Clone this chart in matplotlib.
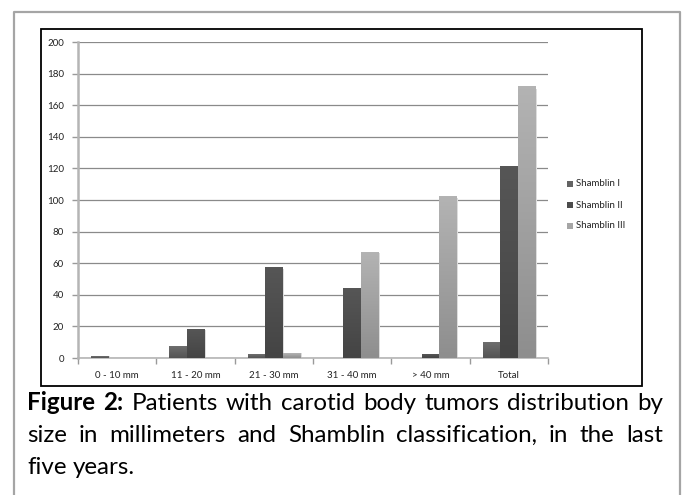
import matplotlib
matplotlib.use("Agg")
import matplotlib.pyplot as plt
import numpy as np
from matplotlib.patches import Rectangle
from matplotlib.lines import Line2D
from matplotlib.colors import LinearSegmentedColormap

# data
categories = ["0 - 10 mm", "11 - 20 mm", "21 - 30 mm", "31 - 40 mm", "> 40 mm", "Total"]
series_names = ["Shamblin I", "Shamblin II", "Shamblin III"]
shamblin_1 = [1, 7, 2, 0, 0, 10]
shamblin_2 = [0, 18, 57, 44, 2, 121]
shamblin_3 = [0, 0, 3, 67, 102, 172]
y_ticks = [0, 20, 40, 60, 80, 100, 120, 140, 160, 180, 200]

caption_bold = "Figure 2:"
caption_lines = [
    "Patients with carotid body tumors distribution by",
    "size in millimeters and Shamblin classification, in the last",
    "five years.",
]

# (top colour, bottom colour) per series, excel-like gradient
grads = [("#6e6e6e", "#545454"), ("#565656", "#444444"), ("#b3b3b3", "#8e8e8e")]
legend_cols = ["#636363", "#4c4c4c", "#a6a6a6"]

W, H = 683, 495
fig = plt.figure(figsize=(W / 100, H / 100), dpi=100)
fig.patch.set_facecolor("white")


def fx(x):
    return x / W


def fy(y):
    return 1 - y / H


ax = fig.add_axes([fx(78), fy(358), fx(548) - fx(78), fy(42) - fy(358)])

n = len(categories)
bw = 1 / 4.5
series = [shamblin_1, shamblin_2, shamblin_3]
for k, vals in enumerate(series):
    cmap = LinearSegmentedColormap.from_list("g%d" % k, [grads[k][0], grads[k][1]])
    for i, v in enumerate(vals):
        if v <= 0:
            continue
        x0 = i + (k - 1.5) * bw
        ax.imshow(np.linspace(0, 1, 64).reshape(-1, 1), cmap=cmap, aspect="auto",
                  extent=[x0, x0 + bw, 0, v], zorder=3, interpolation="bilinear")
        # faint shadow at right edge
        ax.add_patch(Rectangle((x0 + bw, 0), 0.02, v * 0.99, color="#dddddd", zorder=2, lw=0))

ax.set_xlim(-0.5, n - 0.5)
ax.set_ylim(0, 200)
ax.set_yticks(y_ticks)
ax.set_yticklabels([str(t) for t in y_ticks])
ax.yaxis.grid(True, color="#8a8a8a", lw=0.9, zorder=1)
ax.set_axisbelow(True)

ax.set_xticks(np.arange(-0.5, n, 1.0))
ax.set_xticklabels([])
ax.set_xticks(np.arange(n), minor=True)
ax.set_xticklabels(categories, minor=True)
ax.tick_params(axis="x", which="minor", length=0, pad=9)
ax.tick_params(axis="x", which="major", length=4, color="#9a9a9a", width=1)
ax.tick_params(axis="y", length=4, color="#9a9a9a", width=1, pad=6)
for lab in ax.get_xticklabels(minor=True) + ax.get_yticklabels():
    lab.set_fontsize(7)
    lab.set_family("Lato")
    lab.set_color("#222222")

for s in ["top", "right"]:
    ax.spines[s].set_visible(False)
ax.spines["left"].set_color("#b5b5b5")
ax.spines["left"].set_linewidth(1.8)
ax.spines["bottom"].set_color("#b5b5b5")
ax.spines["bottom"].set_linewidth(1.2)

# legend drawn by hand
for k, name in enumerate(series_names):
    yy = [184, 205, 226][k]
    fig.patches.append(Rectangle((fx(567), fy(yy + 3)), fx(6), 6 / H, transform=fig.transFigure,
                                 facecolor=legend_cols[k], edgecolor="none"))
    fig.text(fx(576), fy(yy), name, fontsize=7, family="Lato", va="center", color="#222222")

# chart frame and outer page border
fig.patches.append(Rectangle((fx(41), fy(386)), fx(642) - fx(41), fy(29) - fy(386),
                             transform=fig.transFigure, fill=False, edgecolor="black", lw=1.3))
fig.lines.append(Line2D([fx(14), fx(14), fx(680), fx(680)], [0, fy(12), fy(12), 0],
                        transform=fig.transFigure, color="#a5a5a5", lw=1.6))

# caption, justified like the source
fig.canvas.draw()
renderer = fig.canvas.get_renderer()
left, right = 27, 663


def word_width(t, weight, size):
    tt = fig.text(0, 0, t, fontsize=size, family="Lato", weight=weight)
    w = tt.get_window_extent(renderer).width
    tt.remove()
    return w


line1 = [(w, "bold") for w in caption_bold.split()] + [(w, "normal") for w in caption_lines[0].split()]

# pick the size so that the first line fills the width with normal spaces
ref = 10
nat = sum(word_width(t, wt, ref) for t, wt in line1) + (len(line1) - 1) * word_width(" ", "normal", ref)
cap_size = ref * (right - left) / nat * 0.98


def justified(words, y, justify=True):
    widths = [word_width(t, wt, cap_size) for t, wt in words]
    if justify and len(words) > 1:
        gap = (right - left - sum(widths)) / (len(words) - 1)
    else:
        gap = word_width("a", "normal", cap_size) * 0.5
    x = left
    for (t, wt), w in zip(words, widths):
        fig.text(fx(x), fy(y), t, fontsize=cap_size, family="Lato", weight=wt,
                 va="baseline", color="black")
        x += w + gap


justified(line1, 410)
justified([(w, "normal") for w in caption_lines[1].split()], 442)
justified([(w, "normal") for w in caption_lines[2].split()], 474, justify=False)

fig.savefig("out.png", dpi=100)
